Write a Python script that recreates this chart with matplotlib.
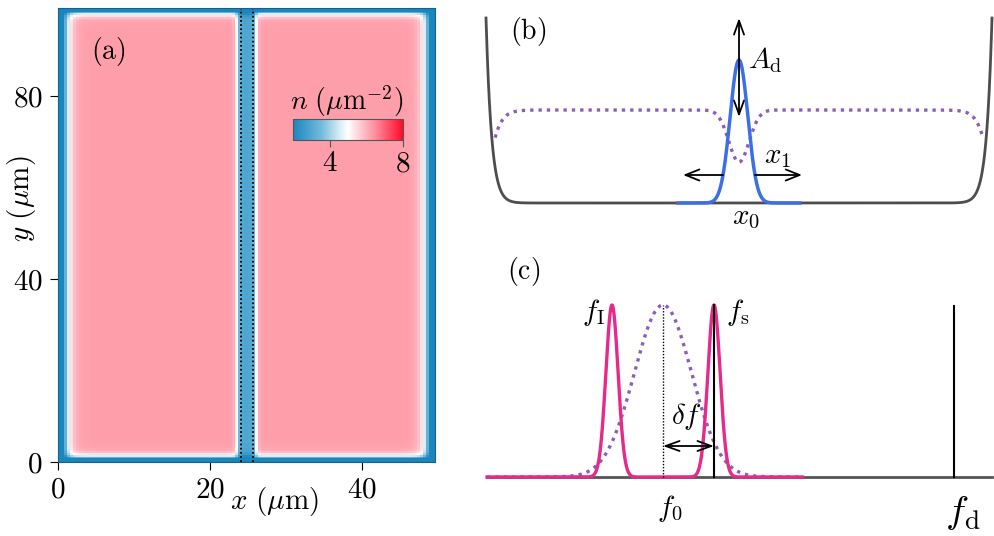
import numpy as np
import matplotlib
matplotlib.use('Agg')
import matplotlib.pyplot as plt
from matplotlib.colors import LinearSegmentedColormap

plt.rcParams['mathtext.fontset'] = 'cm'
plt.rcParams['font.family'] = 'serif'
plt.rcParams['font.serif'] = ['cmr10', 'DejaVu Serif']
plt.rcParams['axes.unicode_minus'] = False

# ---------------- data: panel (a) density map ----------------
box_x = 49.6            # um
box_y = 99.3            # um
n_bulk = 6.25           # um^-2
healing = 1.05          # um
barrier_edges = [23.55, 26.05]
barrier_depth = 0.53
barrier_soft = 0.35
nx, ny = 128, 256
probe_lines_x = [24.1, 25.6]
xticks_a = [0, 20, 40]
yticks_a = [0, 40, 80]
cbar_ticks = [4, 8]
cbar_range = [2, 8]
cmap_pos = [0.0, 0.25, 0.42, 0.5, 0.75, 1.0]
cmap_col = ['#1a86be', '#6fb9da', '#d5ecf4', '#ffffff', '#ff8c9c', '#ff0a2a']

# ---------------- data: panel (b) schematic ----------------
wall_height = 185.0
wall_power = 45
dens_height = 93.0
dens_edge = 1.026
dens_heal = 0.051
dens_span = 0.964
dip_depth = 0.56
dip_width = 0.04
beam_height = 143.0
beam_sigma = 0.035
beam_span = 0.241

# ---------------- data: panel (c) spectrum ----------------
f0 = 0.0
delta_f = 1.0
f_d = 5.71
peak_height = 172.0
line_sigma = 0.12
gain_sigma = 0.56
spec_span = [-3.45, 6.45]
pink_span = [-3.45, 2.73]

W, H = 995, 536
fig = plt.figure(figsize=(W / 100, H / 100), dpi=100)


def fx(px):
    return px / W


def fy(py):
    return 1 - py / H


# ================= panel (a) =================
axA = fig.add_axes([fx(58), fy(462), 377 / W, 454 / H])
xs = (np.arange(nx) + 0.5) * box_x / nx
ys = (np.arange(ny) + 0.5) * box_y / ny
prof_x = np.tanh(np.minimum(xs, box_x - xs) / healing) ** 2
prof_y = np.tanh(np.minimum(ys, box_y - ys) / healing) ** 2
barrier = 0.5 * (np.tanh((xs - barrier_edges[0]) / barrier_soft)
                 - np.tanh((xs - barrier_edges[1]) / barrier_soft))
dens = n_bulk * prof_y[:, None] * (prof_x * (1 - barrier_depth * barrier))[None, :]

cmap = LinearSegmentedColormap.from_list('bwr_n', list(zip(cmap_pos, cmap_col)))
im = axA.imshow(dens, origin='lower', extent=[0, box_x, 0, box_y], aspect='auto',
                cmap=cmap, vmin=cbar_range[0], vmax=cbar_range[1],
                interpolation='nearest')
for xv in probe_lines_x:
    axA.axvline(xv, color='k', ls=(0, (1, 1.3)), lw=1.3)
axA.set_xlim(0, box_x)
axA.set_ylim(0, box_y)
axA.set_xticks(xticks_a)
axA.set_xticklabels(['$%d$' % v for v in xticks_a])
axA.set_yticks(yticks_a)
axA.set_yticklabels(['$%d$' % v for v in yticks_a])
axA.tick_params(direction='out', length=6, width=0.8, labelsize=21, pad=5)
for s in axA.spines.values():
    s.set_linewidth(0.8)
    s.set_color('#1b5f86')
axA.text(6.6, 89.7, r'$(\mathrm{a})$', fontsize=20, ha='center', va='center')
fig.text(fx(274), fy(501), r'$x\ (\mu\mathrm{m})$', fontsize=21, ha='center', va='center')
fig.text(fx(22), fy(199), r'$y\ (\mu\mathrm{m})$', fontsize=21, ha='center', va='center',
         rotation=90)

cax = fig.add_axes([fx(293), fy(140), 110 / W, 21 / H])
cb = fig.colorbar(im, cax=cax, orientation='horizontal', ticks=cbar_ticks)
cb.ax.set_xticklabels(['$%d$' % v for v in cbar_ticks])
cb.ax.tick_params(length=5, width=0.8, labelsize=21, pad=3, color='#555555')
cb.outline.set_linewidth(0.8)
cb.outline.set_edgecolor('#555555')
fig.text(fx(347), fy(101), r'$n\ (\mu\mathrm{m}^{-2})$', fontsize=20, ha='center', va='center')

# ================= panel (b) =================
axB = fig.add_axes([fx(480), fy(230), 515 / W, 220 / H])
axB.set_xlim((480 - 739) / 253, (995 - 739) / 253)
axB.set_ylim(203 - 230, 203 - 10)
axB.axis('off')
u = np.linspace(-1, 1, 4001)
axB.plot(u, wall_height * np.abs(u) ** wall_power, color='#4d4d4d', lw=2)
ud = np.linspace(-dens_span, dens_span, 2001)
nd = (dens_height * np.tanh((ud + dens_edge) / dens_heal) ** 2
      * np.tanh((dens_edge - ud) / dens_heal) ** 2
      * (1 - dip_depth * np.exp(-ud ** 2 / (2 * dip_width ** 2))))
axB.plot(ud, nd, color='#8c5db8', lw=2.4, ls=(0, (1, 1.5)))
ub = np.linspace(-beam_span, beam_span, 801)
axB.plot(ub, beam_height * np.exp(-ub ** 2 / (2 * beam_sigma ** 2)), color='#3c6fe6', lw=2.5)

arr2 = dict(arrowstyle='<->,head_length=0.5,head_width=0.18', lw=1.3, color='k',
            mutation_scale=20, shrinkA=0, shrinkB=0)
arr1 = dict(arrowstyle='->,head_length=0.5,head_width=0.2', lw=1.3, color='k',
            mutation_scale=20, shrinkA=0, shrinkB=0)
axB.annotate('', xy=(0, 185), xytext=(0, 86), arrowprops=arr2)
axB.annotate('', xy=(-0.221, 28), xytext=(-0.063, 28), arrowprops=arr1)
axB.annotate('', xy=(0.249, 28), xytext=(0.063, 28), arrowprops=arr1)
axB.text(0.036, 143, r'$A_{\mathrm{d}}$', fontsize=21, ha='left', va='center')
axB.text(0.154, 46, r'$x_1$', fontsize=21, ha='center', va='center')
axB.text(0.028, -15, r'$x_0$', fontsize=21, ha='center', va='center')
axB.text(-0.834, 172, r'$(\mathrm{b})$', fontsize=20, ha='center', va='center')

# ================= panel (c) =================
axC = fig.add_axes([fx(480), fy(536), 515 / W, 286 / H])
axC.set_xlim((480 - 663) / 51, (995 - 663) / 51)
axC.set_ylim(477 - 536, 477 - 250)
axC.axis('off')
axC.plot(spec_span, [0, 0], color='#555555', lw=2)
fp = np.linspace(pink_span[0], pink_span[1], 3001)
gain = peak_height * np.exp(-(fp - f0) ** 2 / (2 * gain_sigma ** 2))
lines = peak_height * (np.exp(-(fp - (f0 - delta_f)) ** 2 / (2 * line_sigma ** 2))
                       + np.exp(-(fp - (f0 + delta_f)) ** 2 / (2 * line_sigma ** 2)))
axC.plot(fp, gain, color='#8c5db8', lw=2.4, ls=(0, (1, 1.5)))
axC.plot(fp, lines, color='#e62a8a', lw=2.4)
axC.plot([f0, f0], [0, peak_height], color='k', lw=1.0, ls=(0, (1, 1.2)))
axC.plot([f0 + delta_f] * 2, [0, peak_height], color='k', lw=1.5)
axC.plot([f_d, f_d], [0, peak_height - 1], color='k', lw=1.5)
axC.annotate('', xy=(f0 + delta_f, 31), xytext=(f0, 31), arrowprops=arr2)
axC.text(-1.37, 165, r'$f_{\mathrm{I}}$', fontsize=21, ha='center', va='center')
axC.text(1.47, 165, r'$f_{\mathrm{s}}$', fontsize=21, ha='center', va='center')
axC.text(0.47, 60, r'$\delta f$', fontsize=21, ha='center', va='center')
axC.text(0.14, -31, r'$f_0$', fontsize=21, ha='center', va='center')
axC.text(5.88, -36, r'$f_{\mathrm{d}}$', fontsize=28, ha='center', va='center')
axC.text(-2.73, 205, r'$(\mathrm{c})$', fontsize=20, ha='center', va='center')

fig.savefig('out.png', dpi=100)
